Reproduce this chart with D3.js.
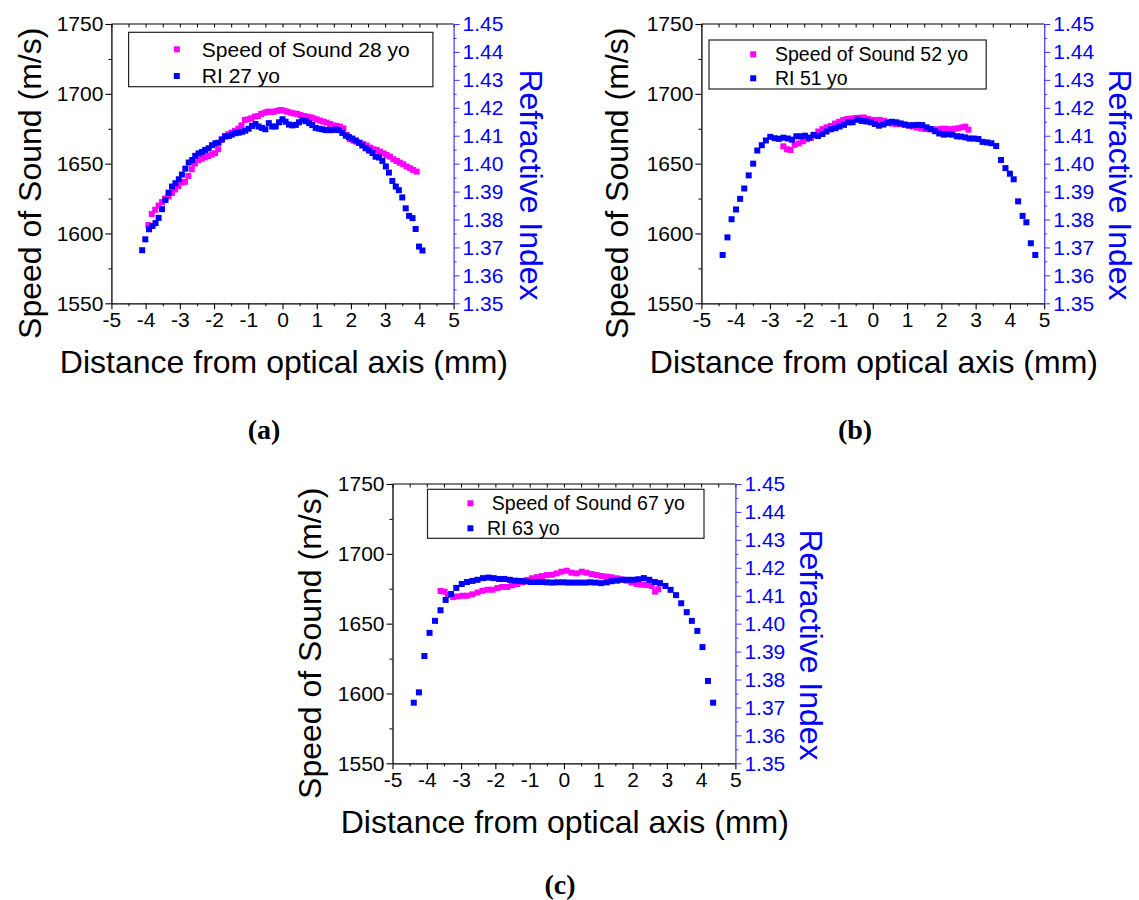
<!DOCTYPE html>
<html><head><meta charset="utf-8">
<script src="https://cdn.jsdelivr.net/npm/d3@7"></script>
<style>
body{margin:0;background:#fff}
svg{display:block}
text{font-family:"Liberation Sans",Arial,sans-serif}
</style>
</head><body>
<svg id="chart" width="1139" height="900"></svg>
<script>
// ---------- shared axis ticks ----------
const xTicks = [-5,-4,-3,-2,-1,0,1,2,3,4,5];
const sosTicks = [1550,1600,1650,1700,1750];
const riTicks = [1.35,1.36,1.37,1.38,1.39,1.40,1.41,1.42,1.43,1.44,1.45];
const sosDomain = [1550,1750];
const riDomain = [1.35,1.45];
const xDomain = [-5,5];

// ---------- panel (a) ----------
const labelsA = ["Speed of Sound 28 yo","RI 27 yo"];
const sosXA = [-3.92,-3.82,-3.72,-3.62,-3.52,-3.43,-3.33,-3.23,-3.14,-3.04,-2.94,-2.85,-2.75,-2.65,-2.56,-2.46,-2.36,-2.27,-2.17,-2.07,-1.97,-1.88,-1.78,-1.68,-1.59,-1.49,-1.39,-1.29,-1.20,-1.10,-1.00,-0.91,-0.81,-0.72,-0.62,-0.52,-0.43,-0.33,-0.24,-0.14,-0.05,0.05,0.14,0.24,0.33,0.43,0.52,0.62,0.71,0.81,0.90,1.00,1.10,1.19,1.29,1.39,1.49,1.58,1.68,1.78,1.88,1.97,2.07,2.17,2.27,2.36,2.46,2.56,2.66,2.75,2.85,2.95,3.04,3.14,3.24,3.34,3.43,3.53,3.63,3.73,3.82,3.92];
const sosA = [1606,1614,1617,1620,1622.5,1625,1626.5,1629,1631.5,1634,1636.5,1637,1641.2,1646,1650,1652.5,1653.5,1654.5,1655.5,1656.5,1657.5,1660.3,1667,1669.8,1671,1672.2,1673.5,1675,1677.4,1681.3,1681.7,1682.5,1683.7,1684.1,1685.6,1686.5,1687.2,1687.2,1687.2,1687.9,1688.4,1687.9,1687.2,1686.5,1686,1685.6,1684.8,1684.1,1683.7,1683.2,1682.5,1681.7,1680.8,1680.1,1679.4,1678.4,1677.4,1677,1676.5,1675.3,1670.5,1667.5,1666.5,1665.7,1665,1664,1663,1661.5,1660.3,1659.8,1658.6,1657.4,1656.2,1655,1653.1,1651.9,1650.7,1649.5,1647.9,1646.7,1645.5,1644.3];
const riXA = [-4.10,-4.01,-3.90,-3.80,-3.71,-3.62,-3.52,-3.42,-3.33,-3.23,-3.13,-3.03,-2.94,-2.84,-2.74,-2.64,-2.55,-2.45,-2.35,-2.26,-2.16,-2.06,-1.96,-1.87,-1.77,-1.67,-1.57,-1.48,-1.38,-1.28,-1.18,-1.09,-0.99,-0.89,-0.79,-0.70,-0.60,-0.50,-0.40,-0.30,-0.20,-0.10,0.00,0.09,0.19,0.29,0.39,0.48,0.58,0.68,0.78,0.87,0.97,1.07,1.16,1.26,1.36,1.46,1.55,1.65,1.75,1.85,1.94,2.04,2.14,2.24,2.33,2.43,2.53,2.63,2.72,2.82,2.92,3.02,3.11,3.21,3.31,3.40,3.50,3.60,3.70,3.80,3.89,3.99,4.09];
const riA = [1.3690,1.3729,1.3765,1.3777,1.3787,1.3806,1.3837,1.3870,1.3896,1.3918,1.3930,1.3944,1.3961,1.3982,1.4004,1.4013,1.4028,1.4037,1.4042,1.4049,1.4055,1.4066,1.4073,1.4075,1.4087,1.4097,1.4099,1.4104,1.4109,1.4111,1.4114,1.4118,1.4125,1.4135,1.4142,1.4133,1.4128,1.4123,1.4145,1.4133,1.4133,1.4148,1.4159,1.4150,1.4140,1.4137,1.4139,1.4148,1.4155,1.4152,1.4145,1.4138,1.4128,1.4125,1.4123,1.4120,1.4120,1.4120,1.4122,1.4120,1.4110,1.4100,1.4095,1.4090,1.4083,1.4074,1.4065,1.4055,1.4047,1.4038,1.4025,1.4022,1.4010,1.3990,1.3968,1.3938,1.3918,1.3905,1.3879,1.3840,1.3813,1.3805,1.3766,1.3703,1.3689];

// ---------- panel (b) ----------
const labelsB = ["Speed of Sound 52 yo","RI 51 yo"];
const sosXB = [-2.61,-2.50,-2.40,-2.28,-2.16,-2.04,-1.92,-1.80,-1.69,-1.59,-1.47,-1.35,-1.23,-1.10,-0.98,-0.86,-0.74,-0.62,-0.50,-0.38,-0.26,-0.14,-0.03,0.09,0.21,0.33,0.45,0.57,0.69,0.81,0.93,1.05,1.17,1.29,1.41,1.53,1.65,1.77,1.89,2.01,2.13,2.25,2.37,2.49,2.61,2.70,2.79];
const sosB = [1662.4,1660.3,1659.8,1663.5,1664.5,1666,1667.5,1668.5,1670.5,1673,1674.7,1676,1677,1678.7,1680,1681.3,1682,1682.3,1682.7,1682.9,1683,1682,1681.3,1681.3,1681.3,1680.7,1679.8,1678.6,1678.4,1678.3,1677.8,1677.2,1676.5,1675.8,1675.2,1674.8,1674.6,1674.5,1674.6,1675,1675,1674.6,1675,1675.3,1676,1676.5,1674.3];
const riXB = [-4.38,-4.24,-4.12,-3.99,-3.87,-3.75,-3.62,-3.49,-3.37,-3.24,-3.12,-2.99,-2.86,-2.74,-2.61,-2.48,-2.36,-2.23,-2.10,-1.98,-1.85,-1.73,-1.60,-1.47,-1.35,-1.22,-1.09,-0.97,-0.84,-0.71,-0.59,-0.45,-0.32,-0.19,-0.06,0.06,0.18,0.31,0.43,0.56,0.69,0.81,0.94,1.06,1.19,1.31,1.44,1.57,1.69,1.82,1.94,2.07,2.20,2.32,2.45,2.57,2.70,2.82,2.95,3.08,3.20,3.33,3.46,3.60,3.74,3.87,4.00,4.11,4.24,4.37,4.48,4.61,4.74];
const riB = [1.3673,1.3736,1.3801,1.3836,1.3874,1.3911,1.3958,1.4000,1.4047,1.4066,1.4083,1.4096,1.4091,1.4089,1.4093,1.4090,1.4086,1.4098,1.4098,1.4100,1.4093,1.4103,1.4099,1.4106,1.4115,1.4123,1.4127,1.4133,1.4139,1.4148,1.4148,1.4157,1.4153,1.4151,1.4148,1.4142,1.4136,1.4140,1.4146,1.4150,1.4148,1.4144,1.4140,1.4137,1.4138,1.4139,1.4138,1.4130,1.4124,1.4116,1.4108,1.4104,1.4105,1.4104,1.4098,1.4097,1.4094,1.4090,1.4090,1.4088,1.4078,1.4076,1.4073,1.4063,1.4013,1.3984,1.3964,1.3944,1.3865,1.3813,1.3790,1.3715,1.3673];

// ---------- panel (c) ----------
const labelsC = ["Speed of Sound 67 yo","RI 63 yo"];
const sosXC = [-3.60,-3.48,-3.38,-3.23,-3.10,-2.96,-2.82,-2.67,-2.52,-2.38,-2.23,-2.09,-1.94,-1.80,-1.65,-1.51,-1.37,-1.22,-1.08,-0.93,-0.79,-0.64,-0.50,-0.35,-0.21,-0.07,0.08,0.22,0.37,0.52,0.66,0.81,0.95,1.10,1.25,1.39,1.54,1.68,1.83,1.97,2.12,2.27,2.41,2.56,2.66,2.75];
const sosC = [1673.4,1672.9,1670.5,1669,1669.5,1670,1670,1671,1672.3,1673.5,1674.3,1674.3,1675.5,1676.3,1676.3,1677.5,1678.4,1679.6,1681.3,1682.5,1683.3,1684.1,1684.8,1685,1686,1687.2,1687.9,1686.5,1686,1687.2,1686.5,1685.5,1684.8,1684.1,1683.7,1683.2,1682.5,1681.7,1680.8,1679.4,1678.4,1677.9,1677.7,1677,1672.9,1674.6];
const riXC = [-4.38,-4.23,-4.07,-3.92,-3.76,-3.60,-3.45,-3.29,-3.14,-2.98,-2.83,-2.67,-2.52,-2.36,-2.20,-2.05,-1.89,-1.74,-1.58,-1.43,-1.27,-1.12,-0.96,-0.81,-0.65,-0.50,-0.34,-0.18,-0.02,0.13,0.29,0.45,0.61,0.76,0.92,1.08,1.25,1.39,1.55,1.70,1.86,2.02,2.17,2.33,2.49,2.65,2.80,2.96,3.11,3.27,3.42,3.58,3.73,3.89,4.04,4.20,4.35];
const riC = [1.3717,1.3754,1.3884,1.3967,1.4010,1.4048,1.4085,1.4106,1.4128,1.4142,1.4149,1.4153,1.4157,1.4163,1.4165,1.4163,1.4160,1.4160,1.4157,1.4154,1.4153,1.4151,1.4149,1.4149,1.4149,1.4148,1.4147,1.4148,1.4148,1.4147,1.4147,1.4147,1.4147,1.4148,1.4147,1.4145,1.4148,1.4152,1.4154,1.4157,1.4157,1.4157,1.4159,1.4163,1.4157,1.4149,1.4145,1.4135,1.4121,1.4102,1.4073,1.4041,1.4010,1.3974,1.3916,1.3795,1.3717];

// ---------- layout (positions only) ----------
const panels = [
  {box:[111.4,453.6,24,303.3], sosX:sosXA, sos:sosA, riX:riXA, ri:riA, labels:labelsA,
   leg:{x0:128.6,x1:432.9,y0:32.3,y1:86.7,mx:176.8,tx:[201.8,201.8],my:[49.3,76],fs:21},
   yT:[29.5,183.3], rT:[531,185], xT:[283.9,373], tag:["(a)",264,439]},
  {box:[701.4,1044.2,24,303.3], sosX:sosXB, sos:sosB, riX:riXB, ri:riB, labels:labelsB,
   leg:{x0:709,x1:986.2,y0:40,y1:89,mx:753.2,tx:[775,775],my:[54.3,78.3],fs:19.5},
   yT:[617.2,183.3], rT:[1119.6,185], xT:[873.9,373], tag:["(b)",855,439]},
  {box:[392.5,735.4,484,763.3], sosX:sosXC, sos:sosC, riX:riXC, ri:riC, labels:labelsC,
   leg:{x0:427.5,x1:704,y0:489.3,y1:538.3,mx:470.4,tx:[491.8,487],my:[503.3,528.3],fs:19.5},
   yT:[309.5,643.3], rT:[811,645], xT:[564.8,833.3], tag:["(c)",560,894]}
];

const MAG = "#ff00ff", BLUE = "#0000ff", RAX = "#3a3aff";
const svg = d3.select("#chart");
const MS = 6;

function range(a,b,s){const r=[];for(let v=a;v<=b+1e-9;v+=s)r.push(+v.toFixed(4));return r;}

panels.forEach(p => {
  const [L,R,T,B] = p.box;
  const x = d3.scaleLinear().domain(xDomain).range([L,R]);
  const yS = d3.scaleLinear().domain(sosDomain).range([B,T]);
  const yR = d3.scaleLinear().domain(riDomain).range([B,T]);
  const g = svg.append("g");

  // minor ticks
  const minX = range(-5,5,0.5).filter(v=>Math.abs(v%1)>0.1);
  g.append("g").attr("transform",`translate(0,${B})`)
    .call(d3.axisBottom(x).tickValues(minX).tickSize(3).tickFormat("").tickSizeOuter(0))
    .call(s=>s.select(".domain").remove());
  g.append("g").attr("transform",`translate(0,${T})`)
    .call(d3.axisBottom(x).tickValues(range(-5,5,0.5)).tickSize(3.5).tickFormat("").tickSizeOuter(0))
    .call(s=>s.select(".domain").remove());
  g.append("g").attr("transform",`translate(${L},0)`)
    .call(d3.axisLeft(yS).tickValues([1575,1625,1675,1725]).tickSize(3).tickFormat("").tickSizeOuter(0))
    .call(s=>s.select(".domain").remove());
  g.append("g").attr("transform",`translate(${R},0)`)
    .call(d3.axisRight(yR).tickValues(range(1.355,1.445,0.01)).tickSize(3).tickFormat("").tickSizeOuter(0))
    .call(s=>{s.select(".domain").remove(); s.selectAll("line").attr("stroke",RAX);});

  // top line
  g.append("line").attr("x1",L).attr("x2",R).attr("y1",T).attr("y2",T)
    .attr("stroke","#000").attr("stroke-width",1.2);

  // major axes
  const bx = g.append("g").attr("transform",`translate(0,${B})`)
    .call(d3.axisBottom(x).tickValues(xTicks).tickSize(6).tickPadding(3).tickSizeOuter(0).tickFormat(d=>String(d)));
  const ly = g.append("g").attr("transform",`translate(${L},0)`)
    .call(d3.axisLeft(yS).tickValues(sosTicks).tickSize(6).tickPadding(2).tickSizeOuter(0).tickFormat(d=>String(d)));
  const ry = g.append("g").attr("transform",`translate(${R},0)`)
    .call(d3.axisRight(yR).tickValues(riTicks).tickSize(6).tickPadding(3).tickSizeOuter(0).tickFormat(d3.format(".2f")));
  [bx,ly].forEach(a=>{
    a.selectAll("text").attr("font-size",21).attr("fill","#000").attr("font-family","Liberation Sans, Arial, sans-serif");
    a.select(".domain").attr("stroke-width",1.3);
    a.selectAll(".tick line").attr("stroke-width",1.1);
  });
  ry.selectAll("text").attr("font-size",21).attr("fill",BLUE).attr("font-family","Liberation Sans, Arial, sans-serif");
  ry.select(".domain").attr("stroke",RAX).attr("stroke-width",1.2);
  ry.selectAll(".tick line").attr("stroke",RAX);

  // data
  const sosPts = p.sosX.map((d,i)=>({x:d,v:p.sos[i]}));
  const riPts = p.riX.map((d,i)=>({x:d,v:p.ri[i]}));
  g.append("g").selectAll("rect").data(sosPts).join("rect")
    .attr("x",d=>x(d.x)-MS/2).attr("y",d=>yS(d.v)-MS/2)
    .attr("width",MS).attr("height",MS).attr("fill",MAG);
  g.append("g").selectAll("rect").data(riPts).join("rect")
    .attr("x",d=>x(d.x)-MS/2).attr("y",d=>yR(d.v)-MS/2)
    .attr("width",MS).attr("height",MS).attr("fill",BLUE);

  // legend
  const lg = p.leg;
  g.append("rect").attr("x",lg.x0).attr("y",lg.y0).attr("width",lg.x1-lg.x0).attr("height",lg.y1-lg.y0)
    .attr("fill","#fff").attr("stroke","#222").attr("stroke-width",1.2);
  [MAG,BLUE].forEach((c,i)=>{
    g.append("rect").attr("x",lg.mx-MS/2).attr("y",lg.my[i]-MS/2).attr("width",MS).attr("height",MS).attr("fill",c);
    g.append("text").attr("x",lg.tx[i]).attr("y",lg.my[i]).attr("dy","0.35em")
      .attr("font-size",lg.fs).attr("fill","#000").text(p.labels[i]);
  });

  // titles
  g.append("text").attr("transform",`translate(${p.yT[0]},${p.yT[1]}) rotate(-90)`)
    .attr("text-anchor","middle").attr("dominant-baseline","central")
    .attr("font-size",32).attr("fill","#000").text("Speed of Sound (m/s)");
  g.append("text").attr("transform",`translate(${p.rT[0]},${p.rT[1]}) rotate(90)`)
    .attr("text-anchor","middle").attr("dominant-baseline","central")
    .attr("font-size",32).attr("fill",BLUE).text("Refractive Index");
  g.append("text").attr("x",p.xT[0]).attr("y",p.xT[1]).attr("text-anchor","middle")
    .attr("font-size",32).attr("fill","#000").text("Distance from optical axis (mm)");
  g.append("text").attr("x",p.tag[1]).attr("y",p.tag[2]).attr("text-anchor","middle")
    .attr("font-size",28).attr("font-weight","bold").attr("fill","#000")
    .style("font-family","'Liberation Serif','Times New Roman',serif").text(p.tag[0]);
});
</script>
</body></html>
